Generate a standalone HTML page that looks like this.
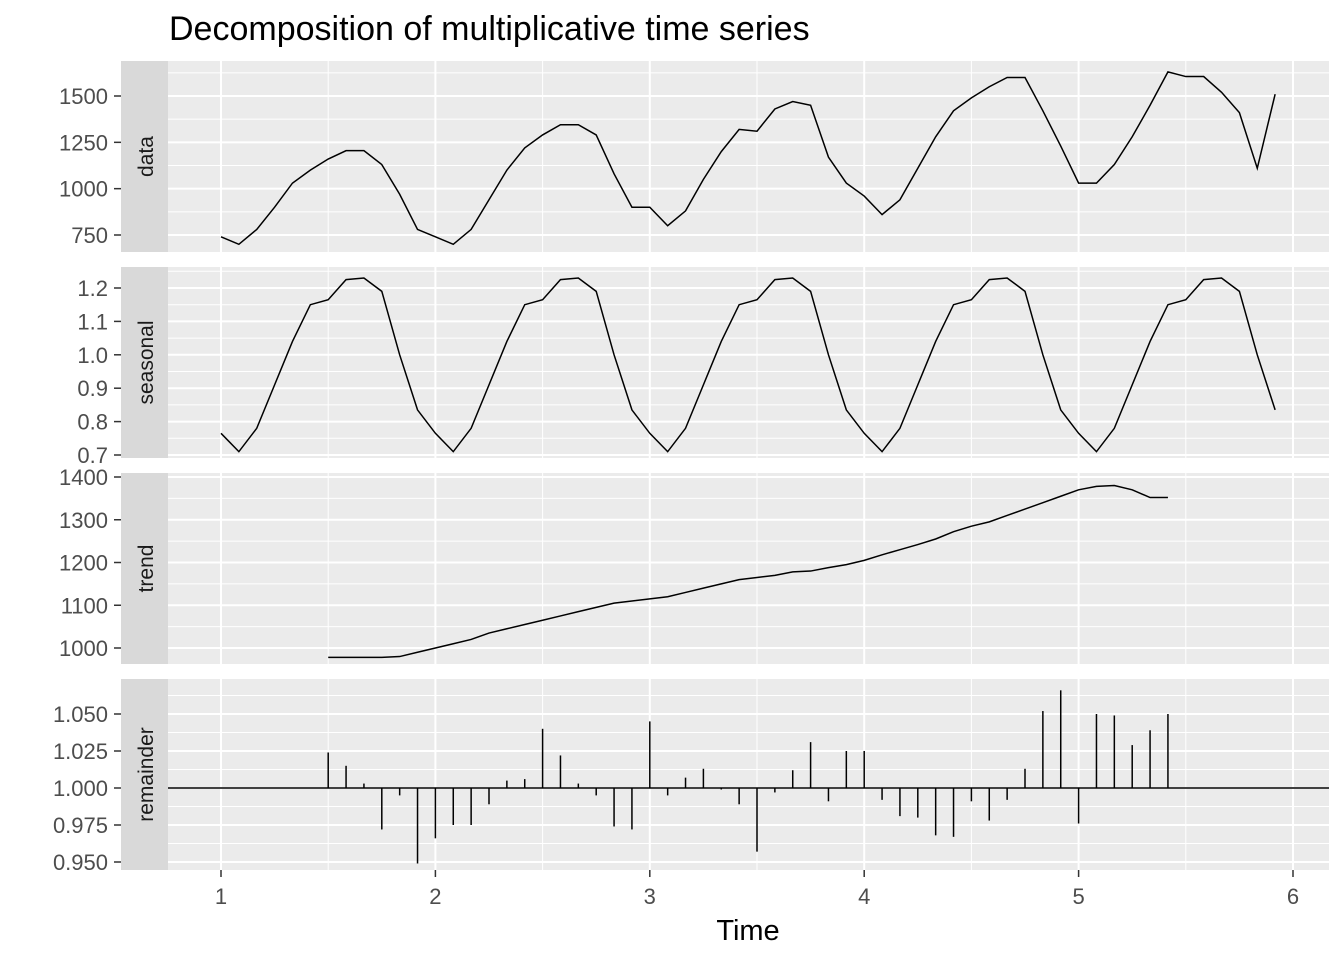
<!DOCTYPE html>
<html><head><meta charset="utf-8"><style>
body{margin:0;background:#fff}
svg{display:block}
text{font-family:"Liberation Sans",sans-serif}
</style></head><body>
<svg id="c" width="1344" height="960" xmlns="http://www.w3.org/2000/svg"></svg>
<script>
const dataVals=[740,700,780,900,1030,1100,1160,1205,1205,1130,970,780,
740,700,780,940,1100,1220,1290,1345,1345,1290,1080,900,
900,800,880,1050,1200,1320,1310,1430,1470,1450,1170,1030,
960,860,940,1110,1280,1420,1490,1550,1600,1600,1420,1230,
1030,1030,1130,1280,1450,1630,1605,1605,1520,1410,1110,1510];
const seasonalPattern=[0.765,0.71,0.78,0.91,1.04,1.15,1.165,1.225,1.23,1.19,1.0,0.835];
const trendVals=[978,978,978,978,980,990,1000,1010,1020,1035,1045,1055,1065,1075,1085,1095,1105,1110,1115,1120,1130,1140,1150,1160,1165,1170,1178,1180,1188,1195,1205,1218,1230,1242,1255,1272,1285,1295,1310,1325,1340,1355,1370,1378,1380,1370,1352,1352];
const remainderVals=[1.024,1.015,1.003,0.972,0.995,0.949,0.966,0.975,0.975,0.989,1.005,1.006,1.040,1.022,1.003,0.995,0.974,0.972,1.045,0.995,1.007,1.013,0.999,0.989,0.957,0.997,1.012,1.031,0.991,1.025,1.025,0.992,0.981,0.980,0.968,0.967,0.991,0.978,0.992,1.013,1.052,1.066,0.976,1.050,1.049,1.029,1.039,1.050];
const trendStart=6;
const xTicks=[1,2,3,4,5,6];
const dataTicks=[750,1000,1250,1500];
const seasTicks=[0.7,0.8,0.9,1.0,1.1,1.2];
const trendTicks=[1000,1100,1200,1300,1400];
const remTicks=[0.950,0.975,1.000,1.025,1.050];

const svg=document.getElementById('c');
const NS='http://www.w3.org/2000/svg';
function el(t,a,p){const e=document.createElementNS(NS,t);for(const k in a)e.setAttribute(k,a[k]);(p||svg).appendChild(e);return e;}
const X0=168,X1=1329;
const xs=t=>221+(t-1)*214.4;
const timeOf=i=>1+i/12;

const panels=[
 {name:'data',top:61,bot:252,v0:750,y0:235,v1:1500,y1:96,ticks:dataTicks,fmt:v=>String(v),minorStep:250},
 {name:'seasonal',top:267,bot:458,v0:0.7,y0:455,v1:1.2,y1:288,ticks:seasTicks,fmt:v=>v.toFixed(1),minorStep:0.1},
 {name:'trend',top:473,bot:664,v0:1000,y0:648,v1:1400,y1:477,ticks:trendTicks,fmt:v=>String(v),minorStep:100},
 {name:'remainder',top:679,bot:870,v0:0.95,y0:862,v1:1.05,y1:714,ticks:remTicks,fmt:v=>v.toFixed(3),minorStep:0.025}
];
panels.forEach(p=>{p.ys=v=>p.y0+(v-p.v0)*(p.y1-p.y0)/(p.v1-p.v0);});

panels.forEach(p=>{
 const g=el('g',{});
 
 
 el('rect',{x:X0,y:p.top,width:X1-X0,height:p.bot-p.top,fill:'#ebebeb'},g);
 const strip=el('rect',{x:121,y:p.top,width:47,height:p.bot-p.top,fill:'#d9d9d9'},g);
 
 
 const st=el('text',{x:0,y:0,'font-size':21,fill:'#1a1a1a','text-anchor':'middle',transform:`translate(153,${(p.top+p.bot)/2}) rotate(-90)`},g);
 st.textContent=p.name;
 
 
 const t0=p.ticks[0]-p.minorStep/2;
 for(let k=-2;k<20;k++){const v=t0+k*p.minorStep;const y=p.ys(v);if(y>p.top&&y<p.bot)el('line',{x1:X0,x2:X1,y1:y,y2:y,stroke:'#fff','stroke-width':1},g);}
 for(let t=0.5;t<=6.5;t+=1){const x=xs(t);if(x>X0&&x<X1)el('line',{x1:x,x2:x,y1:p.top,y2:p.bot,stroke:'#fff','stroke-width':1},g);}
 p.ticks.forEach(v=>{const y=p.ys(v);
  el('line',{x1:X0,x2:X1,y1:y,y2:y,stroke:'#fff','stroke-width':2},g);
  el('line',{x1:114,x2:121,y1:y,y2:y,stroke:'#333','stroke-width':1.5},g);
  const lb=el('text',{x:108,y:y+8,'font-size':22,fill:'#4d4d4d','text-anchor':'end'},g);
  lb.textContent=p.fmt(v);
  
  
 });
 xTicks.forEach(t=>{const x=xs(t);el('line',{x1:x,x2:x,y1:p.top,y2:p.bot,stroke:'#fff','stroke-width':2},g);});
});

let P=panels[0];
let pts=dataVals.map((v,i)=>xs(timeOf(i))+','+P.ys(v)).join(' ');
let l=el('polyline',{points:pts,fill:'none',stroke:'#000','stroke-width':1.5});


P=panels[1];
pts=dataVals.map((_,i)=>xs(timeOf(i))+','+P.ys(seasonalPattern[i%12])).join(' ');
l=el('polyline',{points:pts,fill:'none',stroke:'#000','stroke-width':1.5});


P=panels[2];
pts=trendVals.map((v,i)=>xs(timeOf(i+trendStart))+','+P.ys(v)).join(' ');
l=el('polyline',{points:pts,fill:'none',stroke:'#000','stroke-width':1.5});


P=panels[3];
const base=P.ys(1);
l=el('line',{x1:X0,x2:X1,y1:base,y2:base,stroke:'#000','stroke-width':1.5});


remainderVals.forEach((v,i)=>{const x=xs(timeOf(i+trendStart));
 const b=el('line',{x1:x,x2:x,y1:base,y2:P.ys(v),stroke:'#000','stroke-width':1.5});
 
 
});
xTicks.forEach(t=>{const x=xs(t);
 el('line',{x1:x,x2:x,y1:870,y2:877,stroke:'#333','stroke-width':1.5});
 const lb=el('text',{x:x,y:904,'font-size':22,fill:'#4d4d4d','text-anchor':'middle'});
 lb.textContent=t;
 
 
});
let tt=el('text',{x:748,y:940,'font-size':29,fill:'#000','text-anchor':'middle'});
tt.textContent='Time';


tt=el('text',{x:169,y:40,'font-size':34,fill:'#000'});
tt.textContent='Decomposition of multiplicative time series';


</script>
</body></html>
